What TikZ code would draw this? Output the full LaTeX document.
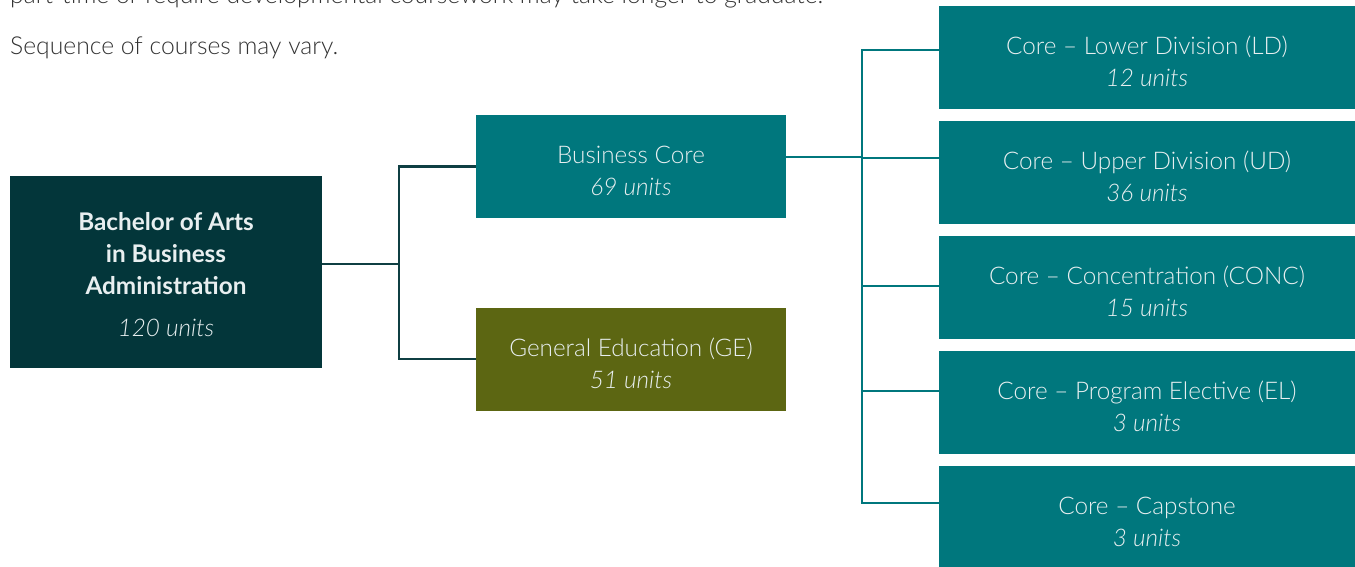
\documentclass[tikz,border=0pt]{standalone}
\usepackage{fontspec}
\setmainfont{Lato}[UprightFont=* Light, ItalicFont=* Light Italic, BoldFont=* Bold]
\usepackage{tikz}
\definecolor{coreteal}{HTML}{00777D}
\definecolor{rootfill}{HTML}{03363A}
\definecolor{geolive}{HTML}{5C6612}
\definecolor{linkdark}{HTML}{0F3F43}
\definecolor{boxtext}{HTML}{E8EFF0}
\definecolor{notegray}{HTML}{333333}
\newcommand{\unitlabel}[2]{\rule{0pt}{27pt}#1\\ \textit{#2}}
\tikzset{
  unitbox/.style  = {shape=rectangle, fill=coreteal, text=boxtext,
                     align=center, inner sep=0pt,
                     font=\fontsize{24.3}{32}\selectfont},
  corebox/.style  = {unitbox, minimum width=416pt, minimum height=103pt},
  midbox/.style   = {unitbox, minimum width=310pt, minimum height=103pt},
  gebox/.style    = {midbox, fill=geolive},
  rootbox/.style  = {unitbox, fill=rootfill, minimum width=312pt, minimum height=192pt},
  rootlink/.style = {draw=linkdark, line width=2.6pt},
  corelink/.style = {draw=coreteal, line width=2.6pt, line cap=rect},
  note/.style     = {text=notegray, font=\fontsize{24.7}{30}\selectfont, inner sep=0pt}
}
\begin{document}
\begin{tikzpicture}[x=1pt,y=-1pt]
	\useasboundingbox (0,0) rectangle (1355,567);
	% Notes
	\node [note, anchor=base west] (intro) at (10,4) {part-time or require developmental coursework may take longer to graduate.};
	\node [note, anchor=base west] (seqnote) at (10,55) {Sequence of courses may vary.};
	% Level 1
	\node [rootbox] (degree) at (166,272) {\rule{0pt}{24pt}\textbf{Bachelor of Arts}\\ \textbf{in Business}\\ \textbf{Administration}\\[10pt] \textit{120 units}};
	% Level 2
	\node [midbox] (bcore) at (631,166.5) {\unitlabel{Business Core}{69 units}};
	\node [gebox] (gened) at (631,359) {\unitlabel{General Education (GE)}{51 units}};
	% Level 3
	\node [corebox] (ld) at (1147,57.5) {\unitlabel{Core -- Lower Division (LD)}{12 units}};
	\node [corebox, below of=ld, node distance=115pt] (ud) {\unitlabel{Core -- Upper Division (UD)}{36 units}};
	\node [corebox, below of=ud, node distance=115pt] (conc) {\unitlabel{Core -- Concentration (CONC)}{15 units}};
	\node [corebox, below of=conc, node distance=115pt] (el) {\unitlabel{Core -- Program Elective (EL)}{3 units}};
	\node [corebox, below of=el, node distance=115pt] (cap) {\unitlabel{Core -- Capstone}{3 units}};
	% Draw edges
	\coordinate (lhub) at (399,264);
	\coordinate (rhub) at (862,157);
	\draw [rootlink] ([yshift=8pt]degree.east) -- (lhub);
	\draw [rootlink] (bcore.west) -| (lhub) |- (gened.west);
	\draw [corelink] ([yshift=9.5pt]bcore.east) -- (rhub);
	\foreach \b/\s in {ld/7.5, ud/14.5, conc/1.5, el/11.5, cap/14.5}
		\draw [corelink] ([yshift=\s pt]\b.west) coordinate (\b-in) -- (rhub |- \b-in);
	\draw [corelink] (rhub |- ld-in) -- (rhub |- cap-in);
\end{tikzpicture}
\end{document}
